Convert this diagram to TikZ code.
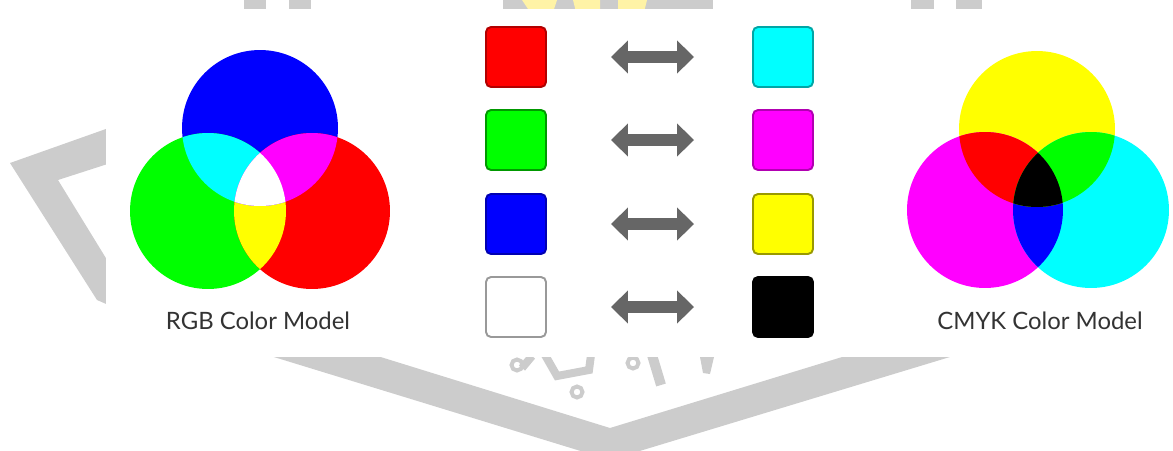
\documentclass[tikz,border=0pt]{standalone}
\usepackage{fontspec}
\setmainfont{Lato}
\usetikzlibrary{arrows.meta}
\definecolor{wmark}{HTML}{CCCCCC}
\definecolor{wyellow}{HTML}{FFF3A6}
\definecolor{labelgray}{HTML}{333333}
\definecolor{swapgray}{HTML}{666666}
\definecolor{pred}{HTML}{FF0000}
\definecolor{pgreen}{HTML}{00FF00}
\definecolor{pblue}{HTML}{0000FF}
\definecolor{pcyan}{HTML}{00FFFF}
\definecolor{pmagenta}{HTML}{FF00FF}
\definecolor{pyellow}{HTML}{FFFF00}
\begin{document}
\begin{tikzpicture}[x=0.02cm,y=-0.02cm,
  swatch/.style={line width=1.1pt,rounded corners=0.1cm,minimum size=1.2cm,inner sep=0pt,draw},
  swaparrow/.style={{Triangle[length=0.34cm,width=0.64cm]}-{Triangle[length=0.34cm,width=0.64cm]},
    line width=0.24cm,draw=swapgray,shorten <=1.28cm,shorten >=1.16cm},
  model/.style={font=\fontsize{13.6}{15}\selectfont,text=labelgray}]
\path[use as bounding box] (0,0) rectangle (1173,450);
\fill[wmark] (10,163)--(120,124)--(120,160)--(58,180)--(120,281)--(120,310)--(97,300)--cycle;
\fill[wmark] (251,350)--(610,460)--(973,350)--(865,350)--(610,428)--(358,350)--cycle;
\fill[wmark] (244,0) rectangle (266,12);
\fill[wmark] (289,0) rectangle (311,12);
\fill[wmark] (911,0) rectangle (934,12);
\fill[wmark] (956,0) rectangle (982,12);
\fill[wmark] (503,0) rectangle (713,12);
\fill[wyellow] (522,0)--(557,0)--(553,12)--(530,12)--cycle;
\fill[wyellow] (573,0)--(600,0)--(600,12)--(576,12)--cycle;
\fill[wyellow] (618,0)--(647,0)--(644,12)--(618,12)--cycle;
\draw[wmark,line width=0.08cm] (517,365) circle[radius=0.11cm];
\draw[wmark,line width=0.16cm] (522,368)--(532,356);
\draw[wmark,line width=0.16cm] (545,355)--(557,376)--(589,370)--(591,355);
\draw[wmark,line width=0.08cm] (577,392) circle[radius=0.11cm];
\draw[wmark,line width=0.08cm] (633,363) circle[radius=0.11cm];
\draw[wmark,line width=0.2cm] (652,355)--(661,385);
\fill[wmark] (700,357)--(714,357)--(710,374)--(703,373)--cycle;
\fill[white] (106,9) rectangle (1173,357);
\coordinate (rgbB) at (260,128);
\coordinate (rgbG) at (208,211);
\coordinate (rgbR) at (312,211);
\fill[pblue] (rgbB) circle[radius=1.56cm];
\fill[pgreen] (rgbG) circle[radius=1.56cm];
\fill[pred] (rgbR) circle[radius=1.56cm];
\begin{scope}
\clip (rgbG) circle[radius=1.56cm];
\fill[pyellow] (rgbR) circle[radius=1.56cm];
\end{scope}
\begin{scope}
\clip (rgbB) circle[radius=1.56cm];
\fill[pcyan] (rgbG) circle[radius=1.56cm];
\fill[pmagenta] (rgbR) circle[radius=1.56cm];
\clip (rgbG) circle[radius=1.56cm];
\fill[white] (rgbR) circle[radius=1.56cm];
\end{scope}
\coordinate (cmyY) at (1037,129);
\coordinate (cmyM) at (985,210);
\coordinate (cmyC) at (1091,210);
\fill[pyellow] (cmyY) circle[radius=1.56cm];
\fill[pmagenta] (cmyM) circle[radius=1.56cm];
\fill[pcyan] (cmyC) circle[radius=1.56cm];
\begin{scope}
\clip (cmyM) circle[radius=1.56cm];
\fill[pblue] (cmyC) circle[radius=1.56cm];
\end{scope}
\begin{scope}
\clip (cmyY) circle[radius=1.56cm];
\fill[pred] (cmyM) circle[radius=1.56cm];
\fill[pgreen] (cmyC) circle[radius=1.56cm];
\clip (cmyM) circle[radius=1.56cm];
\fill[black] (cmyC) circle[radius=1.56cm];
\end{scope}
\node[model] (rgbLabel) at (258,321) {RGB Color Model};
\node[model] (cmykLabel) at (1040,321) {CMYK Color Model};
\node[swatch,fill=pred,draw=pred!70!black] (rgbRed) at (516,57) {};
\node[swatch,fill=pgreen,draw=pgreen!60!black] (rgbGreen) at (516,140) {};
\node[swatch,fill=pblue,draw=pblue!70!black] (rgbBlue) at (516,224) {};
\node[swatch,fill=white,draw=black!40] (rgbWhite) at (516,307) {};
\node[swatch,fill=pcyan,draw=pcyan!65!black] (cmykCyan) at (783,57) {};
\node[swatch,fill=pmagenta,draw=pmagenta!70!black] (cmykMagenta) at (783,140) {};
\node[swatch,fill=pyellow,draw=pyellow!60!black] (cmykYellow) at (783,224) {};
\node[swatch,fill=black,draw=black] (cmykBlack) at (783,307) {};
\draw[swaparrow] (rgbRed) -- (cmykCyan);
\draw[swaparrow] (rgbGreen) -- (cmykMagenta);
\draw[swaparrow] (rgbBlue) -- (cmykYellow);
\draw[swaparrow] (rgbWhite) -- (cmykBlack);
\end{tikzpicture}
\end{document}
